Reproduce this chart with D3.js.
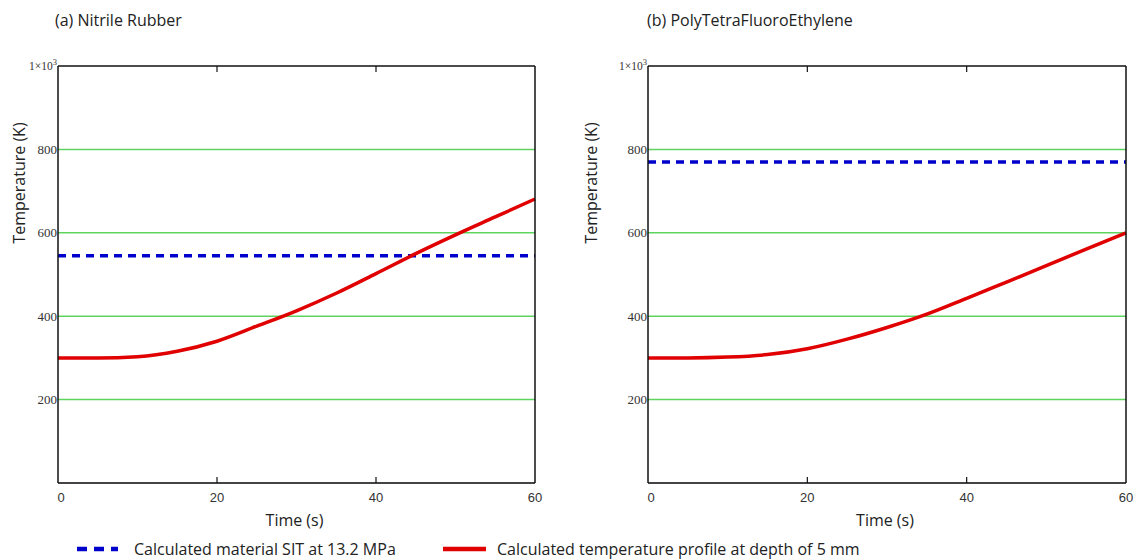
<!DOCTYPE html>
<html><head><meta charset="utf-8">
<script src="https://cdn.jsdelivr.net/npm/d3@7"></script>
<style>
html,body{margin:0;padding:0;background:#fff;}
svg{display:block;}
</style></head>
<body>
<svg id="chart" width="1144" height="560"></svg>
<script>
// ---- data ----
const timeS = [0, 5, 10, 15, 20, 25, 30, 35, 40, 45, 50, 55, 60];
const nitrileTemp = [300, 300, 303, 316, 340, 376, 413, 455, 502, 550, 595, 638, 681];
const ptfeTemp = [300, 300, 302, 308, 322, 345, 373, 405, 443, 482, 521, 561, 600];
const nitrileSIT = 545;
const ptfeSIT = 770;
const panelTitles = ["(a) Nitrile Rubber", "(b) PolyTetraFluoroEthylene"];
const xTicks = [0, 20, 40, 60];
const yTicks = [200, 400, 600, 800, 1000];
const legendLabels = ["Calculated material SIT at 13.2 MPa", "Calculated temperature profile at depth of 5 mm"];

const svg = d3.select("#chart");
const sans = "'Open Sans', sans-serif";
const panels = [
  {title: panelTitles[0], temps: nitrileTemp, sit: nitrileSIT, x0: 58, x1: 535, titleX: 55, ylabX: 20},
  {title: panelTitles[1], temps: ptfeTemp, sit: ptfeSIT, x0: 648, x1: 1126, titleX: 647, ylabX: 592}
];
const yTop = 66, yBot = 483;

panels.forEach(p => {
  const x = d3.scaleLinear().domain([0, 60]).range([p.x0, p.x1]);
  const y = d3.scaleLinear().domain([0, 1000]).range([yBot, yTop]);
  const g = svg.append("g");

  // title
  g.append("text").attr("x", p.titleX).attr("y", 26)
    .attr("font-family", sans).attr("font-size", 16)
    .attr("fill", "#222").text(p.title);

  // grid lines
  g.selectAll(".grid").data(yTicks.filter(v => v < 1000)).enter().append("line")
    .attr("x1", x(0)).attr("x2", x(60)).attr("y1", d => y(d)).attr("y2", d => y(d))
    .attr("stroke", "#5fd35f").attr("stroke-width", 1.5);

  // SIT dashed line
  g.append("line").attr("x1", x(0)).attr("x2", x(60))
    .attr("y1", y(p.sit)).attr("y2", y(p.sit))
    .attr("stroke", "#0000cc").attr("stroke-width", 3.5)
    .attr("stroke-dasharray", "8,6");

  // temperature curve
  const line = d3.line().x((d, i) => x(timeS[i])).y(d => y(d)).curve(d3.curveMonotoneX);
  g.append("path").datum(p.temps).attr("d", line)
    .attr("fill", "none").attr("stroke", "#e00000").attr("stroke-width", 3.5);

  // frame
  g.append("line").attr("x1", x(0)).attr("x2", x(60)).attr("y1", yBot).attr("y2", yBot)
    .attr("stroke", "#444").attr("stroke-width", 2);
  g.append("line").attr("x1", x(0)).attr("x2", x(60)).attr("y1", yTop).attr("y2", yTop)
    .attr("stroke", "#111").attr("stroke-width", 1.5);
  g.append("line").attr("x1", x(0)).attr("x2", x(0)).attr("y1", yTop).attr("y2", yBot)
    .attr("stroke", "#111").attr("stroke-width", 1.5);
  g.append("line").attr("x1", x(60)).attr("x2", x(60)).attr("y1", yTop).attr("y2", yBot)
    .attr("stroke", "#111").attr("stroke-width", 1.5);

  // inner ticks top & bottom
  [20, 40].forEach(t => {
    g.append("line").attr("x1", x(t)).attr("x2", x(t)).attr("y1", yBot).attr("y2", yBot - 6)
      .attr("stroke", "#111").attr("stroke-width", 1.2);
    g.append("line").attr("x1", x(t)).attr("x2", x(t)).attr("y1", yTop).attr("y2", yTop + 6)
      .attr("stroke", "#111").attr("stroke-width", 1.2);
  });

  // x tick labels
  g.selectAll(".xt").data(xTicks).enter().append("text")
    .attr("x", d => x(d) + (d === 0 ? 3 : 0)).attr("y", 502)
    .attr("text-anchor", "middle")
    .attr("font-family", "'Liberation Sans', Arial, sans-serif").attr("font-size", 13)
    .attr("fill", "#333").text(d => d);

  // y tick labels
  yTicks.forEach(v => {
    const t = g.append("text").attr("x", x(0) - 1).attr("y", y(v) + 4.5)
      .attr("text-anchor", "end")
      .attr("font-family", "'Liberation Serif', 'Times New Roman', serif").attr("font-size", 13)
      .attr("fill", "#333");
    if (v === 1000) {
      t.attr("y", y(v) + 4).attr("font-size", 11.5);
      t.append("tspan").text("1×10");
      t.append("tspan").attr("dy", -5).attr("font-size", 8.5).text("3");
    } else {
      t.text(v);
    }
  });

  // axis labels
  g.append("text").attr("transform", `translate(${p.ylabX + 5},183) rotate(-90)`)
    .attr("text-anchor", "middle")
    .attr("font-family", sans).attr("font-size", 16)
    .attr("fill", "#222").text("Temperature (K)");
  g.append("text").attr("x", (p.x0 + p.x1) / 2 - 2).attr("y", 526)
    .attr("text-anchor", "middle")
    .attr("font-family", sans).attr("font-size", 16)
    .attr("fill", "#222").text("Time (s)");
});

// legend
const lg = svg.append("g");
lg.append("line").attr("x1", 77).attr("x2", 118).attr("y1", 549).attr("y2", 549)
  .attr("stroke", "#0000cc").attr("stroke-width", 4.5).attr("stroke-dasharray", "10,7");
lg.append("text").attr("x", 134).attr("y", 555)
  .attr("font-family", sans).attr("font-size", 16)
  .attr("fill", "#222").text(legendLabels[0]);
lg.append("line").attr("x1", 443).attr("x2", 486).attr("y1", 549).attr("y2", 549)
  .attr("stroke", "#e00000").attr("stroke-width", 4.5);
lg.append("text").attr("x", 497).attr("y", 555)
  .attr("font-family", sans).attr("font-size", 16)
  .attr("fill", "#222").text(legendLabels[1]);
</script>
</body></html>
